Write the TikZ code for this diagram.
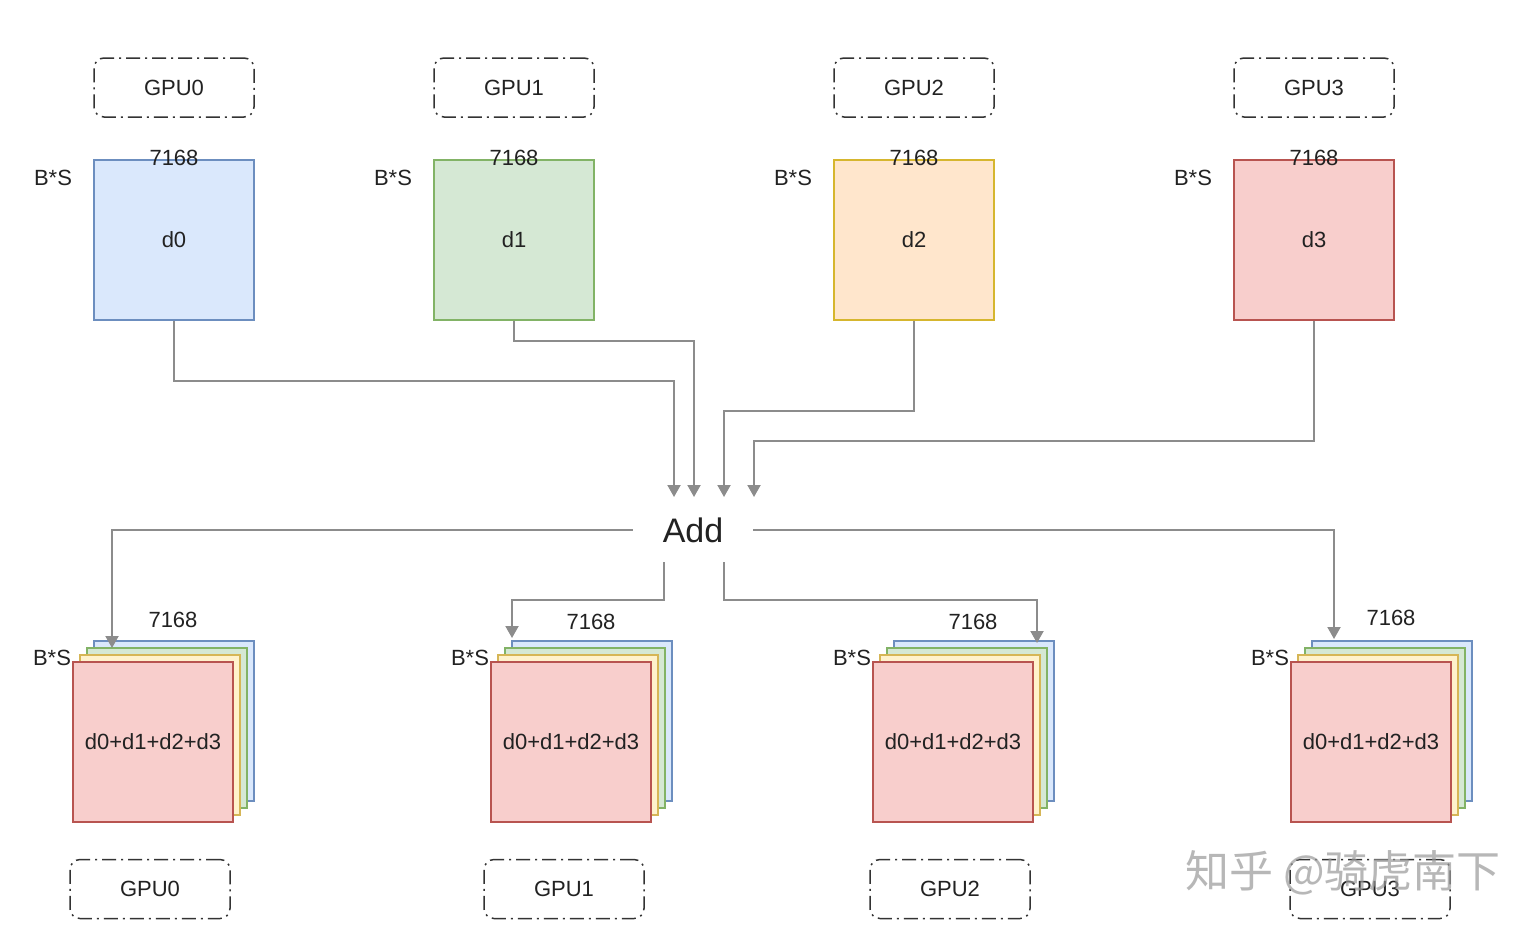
\documentclass[tikz,border=0pt]{standalone}
\usepackage{fontspec}
\setmainfont{Liberation Sans}
\newfontfamily\cjk{Noto Sans CJK SC}
\usetikzlibrary{arrows.meta}
\definecolor{txt}{HTML}{222222}
\definecolor{conncol}{HTML}{8C8C8C}
\definecolor{bluef}{HTML}{DAE8FC}\definecolor{blued}{HTML}{6C8EBF}
\definecolor{greenf}{HTML}{D5E8D4}\definecolor{greend}{HTML}{82B366}
\definecolor{orangef}{HTML}{FFE6CC}\definecolor{oranged}{HTML}{D6B62E}
\definecolor{yellowf}{HTML}{FFF2CC}\definecolor{yellowd}{HTML}{D6B656}
\definecolor{redf}{HTML}{F8CECC}\definecolor{redd}{HTML}{B85450}
\tikzset{
  gpubox/.style={draw=black!80, line width=1.5pt, rounded corners=10pt,
    dash pattern=on 14pt off 5pt on 2pt off 5pt,
    minimum width=160pt, minimum height=59pt, inner sep=0pt,
    font=\fontsize{22}{24}\selectfont, text=txt},
  databox/.style={line width=1.3pt, minimum width=160pt, minimum height=160pt,
    inner sep=0pt, font=\fontsize{22}{24}\selectfont, text=txt},
  lbl/.style={font=\fontsize{22}{24}\selectfont, text=txt, inner sep=0pt},
  conn/.style={draw=conncol, line width=2pt,
    -{Triangle[width=13pt,length=12pt]}},
}
\begin{document}
\begin{tikzpicture}[x=1pt,y=-1pt]
\useasboundingbox (0,0) rectangle (1522,930);
\fill[white] (0,0) rectangle (1522,930);

% top GPU labels
\node[gpubox] (tg0) at (174,87.5) {GPU0};
\node[gpubox] (tg1) at (514,87.5) {GPU1};
\node[gpubox] (tg2) at (914,87.5) {GPU2};
\node[gpubox] (tg3) at (1314,87.5) {GPU3};

% top data boxes
\node[databox, fill=bluef, draw=blued] (d0) at (174,240) {d0};
\node[databox, fill=greenf, draw=greend] (d1) at (514,240) {d1};
\node[databox, fill=orangef, draw=oranged] (d2) at (914,240) {d2};
\node[databox, fill=redf, draw=redd] (d3) at (1314,240) {d3};

\foreach \i/\x in {0/174,1/514,2/914,3/1314}{
  \node[lbl] (tw\i) at (\x,158) {7168};
  \node[lbl] (th\i) at (\x-121,178) {B*S};
}

% Add
\node[font=\fontsize{34}{36}\selectfont, text=txt, minimum width=120pt,
  minimum height=64pt, inner sep=0pt] (add) at (693,530) {Add};
\coordinate (in0) at (674,497);
\coordinate (in1) at (694,497);
\coordinate (in2) at (724,497);
\coordinate (in3) at (754,497);

\draw[conn] (d0.south) -- ++(0,60) -| (in0);
\draw[conn] (d1.south) -- ++(0,20) -| (in1);
\draw[conn] (d2.south) -- ++(0,90) -| (in2);
\draw[conn] (d3.south) -- ++(0,120) -| (in3);

% bottom stacks
\foreach \i/\x in {0/153,1/571,2/953,3/1371}{
  \node[databox, fill=bluef, draw=blued] (sb\i) at (\x+21,721) {};
  \node[databox, fill=greenf, draw=greend] (sg\i) at (\x+14,728) {};
  \node[databox, fill=yellowf, draw=yellowd] (sy\i) at (\x+7,735) {};
  \node[databox, fill=redf, draw=redd] (sr\i) at (\x,742) {d0+d1+d2+d3};
  \node[lbl] (bh\i) at (\x-101,658) {B*S};
}
\node[lbl] (bw0) at (173,620) {7168};
\node[lbl] (bw1) at (591,622) {7168};
\node[lbl] (bw2) at (973,622) {7168};
\node[lbl] (bw3) at (1391,618) {7168};

% bottom GPU labels
\node[gpubox] (bg0) at (150,889) {GPU0};
\node[gpubox] (bg1) at (564,889) {GPU1};
\node[gpubox] (bg2) at (950,889) {GPU2};
\node[gpubox] (bg3) at (1370,889) {GPU3};

% outgoing connectors
\coordinate (a1) at (664,562);
\coordinate (a2) at (724,562);
\coordinate (o0) at (112,648);
\coordinate (o1) at (512,638);
\coordinate (o2) at (1037,643);
\coordinate (o3) at (1334,639);
\draw[conn] (add.west) -| (o0);
\draw[conn] (a1) -- ++(0,38) -| (o1);
\draw[conn] (a2) -- ++(0,38) -| (o2);
\draw[conn] (add.east) -| (o3);

% watermark
\node[font=\cjk\fontsize{44}{46}\selectfont, text=black!40, opacity=0.7,
  inner sep=0pt] (wm) at (1343,873) {知乎\ @骑虎南下};
\end{tikzpicture}
\end{document}
